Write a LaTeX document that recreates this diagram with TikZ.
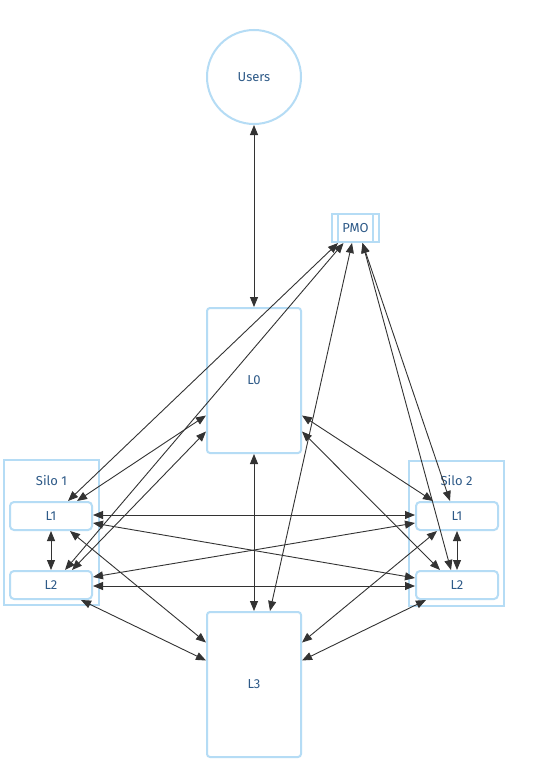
\documentclass[tikz,border=0pt]{standalone}
\usepackage{fontspec}
\setmainfont{Fira Sans}
\usetikzlibrary{arrows.meta,calc}
\definecolor{nodeblue}{HTML}{B5DCF5}
\definecolor{txtblue}{HTML}{2E5A88}
\definecolor{edgegray}{HTML}{333333}
\begin{document}
\begin{tikzpicture}[x=1pt,y=-1pt,
  lbl/.style={text=txtblue, font=\fontsize{13}{15}\selectfont},
  boxbase/.style={draw=nodeblue, line width=2pt, fill=white, inner sep=0pt, lbl},
  circnode/.style={boxbase, circle, minimum size=94pt},
  pmonode/.style={boxbase, rectangle, minimum width=47pt, minimum height=28pt},
  bignode/.style={boxbase, rectangle, rounded corners=3pt, minimum width=94pt, minimum height=145pt},
  smallnode/.style={boxbase, rectangle, rounded corners=4pt, minimum width=82pt, minimum height=28pt},
  silonode/.style={draw=nodeblue, line width=2pt, fill=white, rectangle, inner sep=0pt, minimum width=95pt, minimum height=145pt},
  link/.style={draw=edgegray, line width=0.9pt, {Triangle[length=10pt,width=8pt]}-{Triangle[length=10pt,width=8pt]}}
]
\useasboundingbox (0,0) rectangle (552,768);
\fill[white] (0,0) rectangle (552,768);

% containers
\node[silonode] (silo1) at (51.5,532.5) {};
\node[lbl] (silo1lbl) at (51.5,481) {Silo 1};
\node[silonode] (silo2) at (456.5,533) {};
\node[lbl] (silo2lbl) at (456.5,481) {Silo 2};

% nodes
\node[circnode] (users) at (254,77) {Users};
\node[pmonode] (pmo) at (355.5,228) {PMO};
\draw[draw=nodeblue, line width=2pt] ($(pmo.north west)+(7,0)$) -- ($(pmo.south west)+(7,0)$);
\draw[draw=nodeblue, line width=2pt] ($(pmo.north east)+(-7,0)$) -- ($(pmo.south east)+(-7,0)$);
\node[bignode] (l0) at (254,380.5) {L0};
\node[bignode] (l3) at (254,684.5) {L3};
\node[smallnode] (s1l1) at (51,516) {L1};
\node[smallnode] (s1l2) at (51,585) {L2};
\node[smallnode] (s2l1) at (457,516) {L1};
\node[smallnode] (s2l2) at (457,585) {L2};

% connectors
\draw[link] (users.south) -- (l0.north);
\draw[link] (l0.south) -- (l3.north);

\draw[link] ($(pmo.south)+(-17.5,0)$) -- ($(s1l1.north)+(17,0)$);
\draw[link] ($(pmo.south)+(-12,0)$) -- ($(s1l2.north)+(14,0)$);
\draw[link] ($(pmo.south)+(-3.5,0)$) -- ($(l3.north)+(16,0)$);
\draw[link] ($(pmo.south)+(7,0)$) -- ($(s2l1.north)+(-7,0)$);
\draw[link] ($(pmo.south)+(7,0)$) -- ($(s2l2.north)+(-6,0)$);

\draw[link] ($(l0.west)+(0,35)$) -- ($(s1l1.north)+(26,0)$);
\draw[link] ($(l0.west)+(0,51)$) -- ($(s1l2.north)+(21,0)$);
\draw[link] ($(l0.east)+(0,35)$) -- ($(s2l1.north)+(-24,0)$);
\draw[link] ($(l0.east)+(0,51)$) -- ($(s2l2.north)+(-17,0)$);

\draw[link] ($(l3.west)+(0,-42)$) -- ($(s1l1.south)+(19,0)$);
\draw[link] ($(l3.west)+(0,-24)$) -- ($(s1l2.south)+(30,0)$);
\draw[link] ($(l3.east)+(0,-42)$) -- ($(s2l1.south)+(-20,0)$);
\draw[link] ($(l3.east)+(0,-24)$) -- ($(s2l2.south)+(-31,0)$);

\draw[link] (s1l1.south) -- (s1l2.north);
\draw[link] (s2l1.south) -- (s2l2.north);

\draw[link] ($(s1l1.east)+(0,-1)$) -- ($(s2l1.west)+(0,-1)$);
\draw[link] ($(s1l1.east)+(0,7)$) -- ($(s2l2.west)+(0,-7)$);
\draw[link] ($(s1l2.east)+(0,-8)$) -- ($(s2l1.west)+(0,7)$);
\draw[link] ($(s1l2.east)+(0,1)$) -- ($(s2l2.west)+(0,1)$);
\end{tikzpicture}
\end{document}
